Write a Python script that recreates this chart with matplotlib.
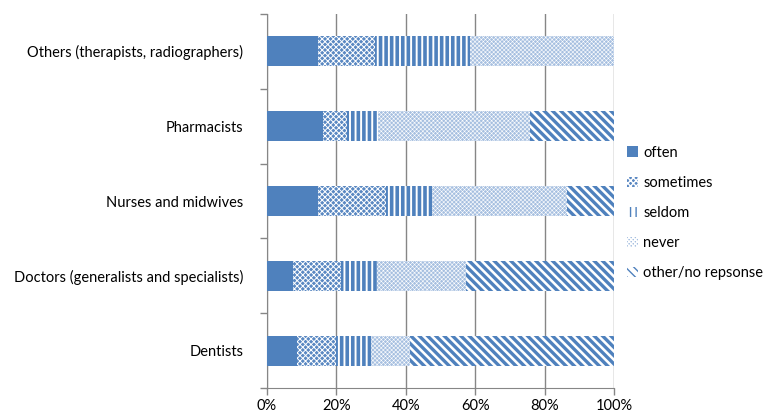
import matplotlib.pyplot as plt
import numpy as np

plt.rcParams['font.family'] = ['Lato', 'DejaVu Sans']

# Data (percent of respondents)
groups = ['Dentists', 'Doctors (generalists and specialists)', 'Nurses and midwives',
          'Pharmacists', 'Others (therapists, radiographers)']
answers = ['often', 'sometimes', 'seldom', 'never', 'other/no repsonse']
often = [8.6, 7.4, 14.8, 16.0, 14.7]
sometimes = [11.3, 13.9, 19.5, 7.0, 16.4]
seldom = [10.0, 10.3, 13.2, 9.1, 27.4]
never = [11.3, 25.7, 38.9, 43.7, 41.5]
other = [58.8, 42.7, 13.6, 24.2, 0.0]

blue = '#4F81BD'
styles = [
    dict(facecolor=blue, edgecolor=blue, hatch=None, lw=0.0),
    dict(facecolor='#5a88c2', edgecolor='white', hatch='xxxxxx', lw=0.7),
    dict(facecolor='white', edgecolor=blue, hatch='|||', lw=2.6),
    dict(facecolor='#a6bfe0', edgecolor='white', hatch='xxxxxxxx', lw=0.4),
    dict(facecolor='white', edgecolor=blue, hatch='\\\\\\\\', lw=2.4),
]

fig = plt.figure(figsize=(7.72, 4.17), dpi=100)
ax = fig.add_axes([0.3459, 0.0695, 0.4494, 0.8969])

y = np.arange(len(groups))
left = np.zeros(len(groups))
for name, vals, st in zip(answers, [often, sometimes, seldom, never, other], styles):
    vals = np.array(vals) / 100.0
    with plt.rc_context({'hatch.linewidth': st['lw']}):
        bars = ax.barh(y, vals, left=left, height=0.4, facecolor=st['facecolor'],
                       edgecolor=st['edgecolor'], hatch=st['hatch'], linewidth=0,
                       label=name, zorder=3)
        for b in bars:
            if hasattr(b, 'set_hatch_linewidth'):
                b.set_hatch_linewidth(st['lw'])
    left += vals

ax.set_xlim(0, 1)
ax.set_ylim(-0.5, len(groups) - 0.5)
ax.set_xticks(np.linspace(0, 1, 6))
ax.set_xticklabels([f'{int(v)}%' for v in np.linspace(0, 100, 6)], fontsize=10.5)
ax.set_yticks(y)
ax.set_yticklabels(groups, fontsize=10.5)
ax.set_yticks(np.arange(-0.5, len(groups)), minor=True)
ax.tick_params(axis='y', which='major', length=0, pad=17)
ax.tick_params(axis='y', which='minor', length=5, color='#868686', width=1)
ax.tick_params(axis='x', length=5, color='#868686', width=1, pad=3)
ax.grid(axis='x', color='#868686', linewidth=1, zorder=0)
for s in ['top', 'right']:
    ax.spines[s].set_visible(False)
for s in ['left', 'bottom']:
    ax.spines[s].set_color('#868686')

ax.legend(loc='center left', bbox_to_anchor=(1.0, 0.468), frameon=False, fontsize=10.5,
          handlelength=0.75, handleheight=0.75, handletextpad=0.35, labelspacing=1.1)

fig.savefig('out.png', dpi=100)
